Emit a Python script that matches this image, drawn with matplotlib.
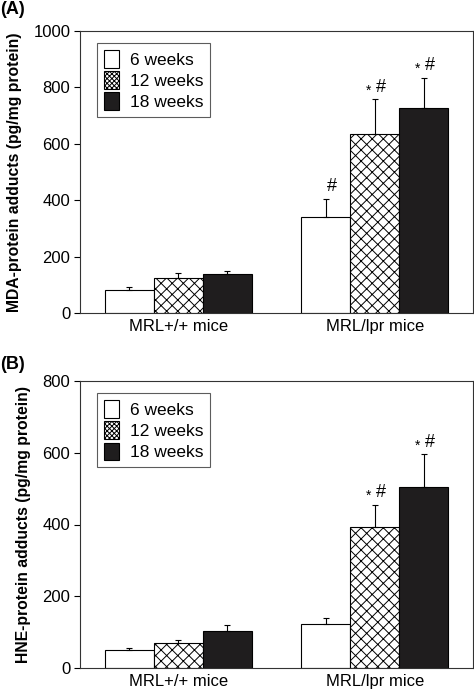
import numpy as np
import matplotlib
matplotlib.use("Agg")
import matplotlib.pyplot as plt
from matplotlib.patches import Patch

plt.rcParams['font.family'] = ['Liberation Sans', 'DejaVu Sans']
plt.rcParams['hatch.linewidth'] = 0.7

groups = ["MRL+/+ mice", "MRL/lpr mice"]
series = ["6 weeks", "12 weeks", "18 weeks"]

# MDA-protein adducts (panel A), rows = series, cols = groups
mda_mean = [[83, 342], [124, 634], [137, 726]]
mda_err = [[9, 64], [18, 124], [12, 109]]
mda_marks = [["", "#"], ["", "*#"], ["", "*#"]]

# HNE-protein adducts (panel B)
hne_mean = [[51, 123], [71, 393], [104, 505]]
hne_err = [[5, 17], [8, 62], [15, 91]]
hne_marks = [["", ""], ["", "*#"], ["", "*#"]]

styles = [dict(facecolor='white', hatch=None),
          dict(facecolor='white', hatch='xxx'),
          dict(facecolor='#1f1d1e', hatch=None)]
legend_hatch = [None, 'xxxxxxx', None]


def draw_panel(ax, means, errs, marks, ymax, ylabel):
    x = np.arange(len(groups))
    w = 0.25
    for i, s in enumerate(series):
        xi = x + (i - 1) * w
        ax.bar(xi, means[i], width=w, edgecolor='black', linewidth=0.8,
               **styles[i])
        ax.errorbar(xi, means[i], yerr=[np.zeros(len(groups)), errs[i]],
                    fmt='none', ecolor='black', elinewidth=0.8, capsize=2.5,
                    capthick=0.8)
        for j, m in enumerate(marks[i]):
            top = means[i][j] + errs[i][j]
            if "#" in m:
                ax.text(xi[j] + 0.03, top + ymax * 0.012, "#", ha='center',
                        va='bottom', fontsize=13)
            if "*" in m:
                ax.text(xi[j] - 0.03, top + ymax * 0.006, "*", ha='center',
                        va='bottom', fontsize=10)
    ax.set_xlim(-0.5, 1.5)
    ax.set_ylim(0, ymax)
    ax.set_yticks(np.arange(0, ymax + 1, 200))
    ax.set_xticks(x)
    ax.set_xticklabels(groups)
    ax.tick_params(axis='x', length=0, labelsize=12, pad=4)
    ax.tick_params(axis='y', length=4, width=0.8, labelsize=12, pad=3)
    for sp in ax.spines.values():
        sp.set_linewidth(0.8)
        sp.set_color('#333333')
    ax.set_ylabel(ylabel, fontsize=11.3, fontweight='bold', labelpad=8)
    handles = [Patch(facecolor=styles[i]['facecolor'], hatch=legend_hatch[i],
                     edgecolor='black', linewidth=0.8, label=s)
               for i, s in enumerate(series)]
    leg = ax.legend(handles=handles, loc='upper left',
                    bbox_to_anchor=(0.043, 0.958), borderaxespad=0,
                    fontsize=12.5, frameon=True, fancybox=False,
                    edgecolor='#333333', handlelength=0.9, handleheight=1.2,
                    handletextpad=0.6, labelspacing=0.2, borderpad=0.4)
    leg.get_frame().set_linewidth(0.8)


fig = plt.figure(figsize=(4.74, 6.92), dpi=100)
ax1 = fig.add_axes([80 / 474, 1 - 313 / 692, 393 / 474, 282 / 692])
ax2 = fig.add_axes([80 / 474, 1 - 668 / 692, 393 / 474, 287 / 692])

draw_panel(ax1, mda_mean, mda_err, mda_marks, 1000,
           "MDA-protein adducts (pg/mg protein)")
draw_panel(ax2, hne_mean, hne_err, hne_marks, 800,
           "HNE-protein adducts (pg/mg protein)")

fig.text(0.0, 1 - 1 / 692, "(A)", fontsize=13, fontweight='bold',
         ha='left', va='top')
fig.text(0.0, 1 - 356 / 692, "(B)", fontsize=13, fontweight='bold',
         ha='left', va='top')

fig.savefig("out.png", dpi=100)
